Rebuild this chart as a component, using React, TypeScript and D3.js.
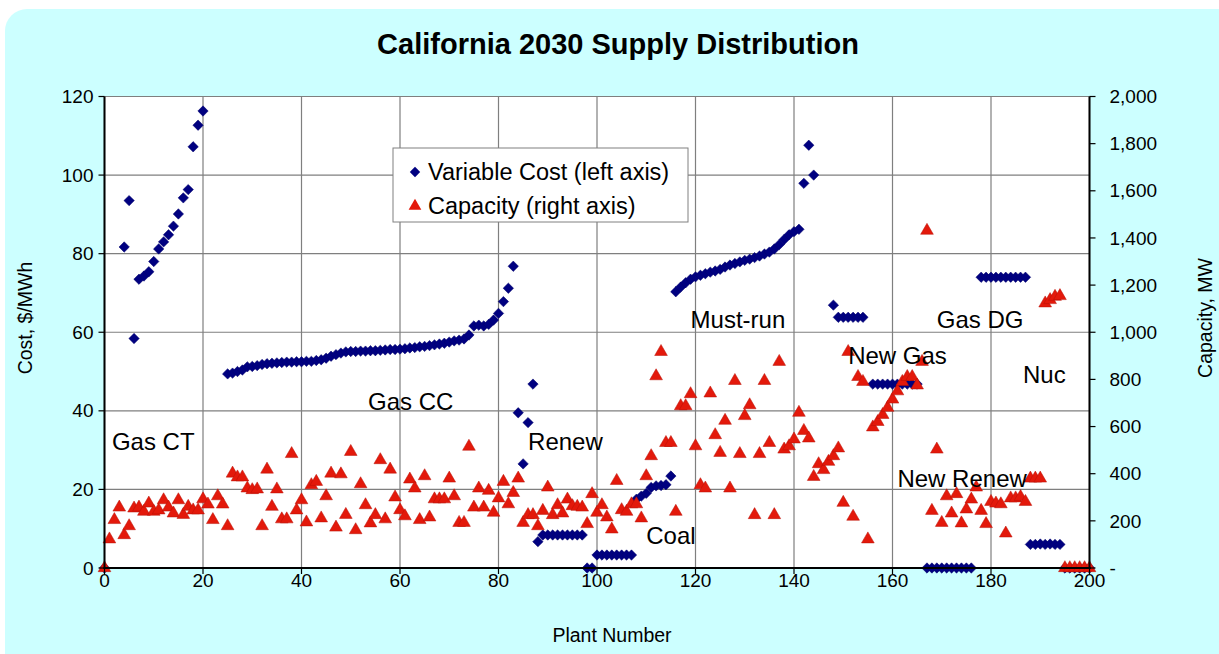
import React from "react";
import * as d3 from "d3";

// Variable cost ($/MWh) indexed by plant number 0..200 (null = no point)
const costValues: (number | null)[] = [
  0, null, null, null, 81.7, 93.5, 58.4, 73.5, 74.3, 75.4,
  78.0, 81.2, 83.0, 84.8, 87.0, 90.1, 94.2, 96.3, 107.2, 112.7,
  116.3, null, null, null, null, 49.4, 49.6, 50.0, 50.4, 51.2,
  51.3, 51.5, 51.8, 52.0, 52.1, 52.2, 52.3, 52.4, 52.4, 52.5,
  52.5, 52.6, 52.6, 52.8, 53.0, 53.4, 53.9, 54.3, 54.7, 55.0,
  55.1, 55.1, 55.2, 55.2, 55.3, 55.3, 55.4, 55.5, 55.6, 55.6,
  55.7, 55.8, 56.0, 56.1, 56.3, 56.4, 56.6, 56.8, 57.0, 57.2,
  57.5, 57.8, 58.0, 58.3, 59.3, 61.6, 61.8, 61.6, 62.0, 63.1,
  64.8, 67.8, 71.2, 76.8, 39.5, 26.5, 37.0, 46.8, 6.7, 8.4,
  8.4, 8.4, 8.4, 8.4, 8.4, 8.4, 8.4, 8.4, 0, 0,
  3.3, 3.3, 3.3, 3.3, 3.3, 3.3, 3.3, 3.3, 17.5, 18.3,
  19.0, 20.5, 20.9, 21.0, 21.2, 23.4, 70.3, 71.5, 72.6, 73.5,
  74.1, 74.5, 74.9, 75.3, 75.6, 76.0, 76.6, 77.1, 77.5, 77.9,
  78.3, 78.6, 79.0, 79.4, 79.9, 80.4, 81.2, 82.3, 83.6, 84.8,
  85.6, 86.2, 97.9, 107.6, 100.0, null, null, null, 66.9, 63.8,
  63.8, 63.8, 63.8, 63.8, 63.8, null, 46.8, 46.8, 46.8, 46.8,
  46.8, 46.8, 46.8, 46.8, 46.8, 46.8, null, 0, 0, 0,
  0, 0, 0, 0, 0, 0, 0, null, 74.0, 74.0,
  74.0, 74.0, 74.0, 74.0, 74.0, 74.0, 74.0, 74.0, 6.0, 6.0,
  6.1, 6.0, 6.1, 6.0, 6.0, 0, 0, 0, 0, 0,
  0,
];

// Capacity (MW) indexed by plant number 0..200
const capacityValues: number[] = [
  0, 122, 204, 257, 140, 178, 253, 257, 239, 274,
  239, 245, 288, 257, 232, 288, 226, 260, 245, 245,
  292, 270, 204, 305, 270, 178, 401, 385, 385, 338,
  331, 334, 178, 418, 260, 334, 207, 207, 484, 245,
  288, 194, 352, 366, 211, 305, 401, 172, 398, 226,
  493, 161, 356, 267, 190, 225, 458, 207, 418, 300,
  246, 220, 376, 338, 204, 390, 215, 292, 292, 292,
  380, 305, 192, 192, 515, 257, 338, 257, 328, 235,
  296, 366, 271, 319, 380, 192, 225, 225, 178, 243,
  342, 225, 267, 232, 291, 263, 260, 257, 187, 314,
  235, 267, 215, 164, 370, 246, 239, 271, 271, 211,
  390, 475, 814, 917, 531, 531, 239, 687, 687, 738,
  517, 352, 338, 741, 564, 489, 625, 338, 794, 484,
  645, 691, 225, 484, 794, 531, 225, 875, 503, 517,
  546, 659, 582, 550, 387, 441, 416, 451, 475, 508,
  277, 917, 218, 811, 790, 122, 597, 620, 650, 680,
  715, 750, 790, 811, 811, 775, 875, 1431, 243, 503,
  192, 305, 232, 314, 190, 249, 291, 342, 243, 187,
  281, 274, 271, 147, 296, 296, 302, 281, 380, 380,
  380, 1123, 1137, 1151, 1154, 0, 0, 0, 0, 0,
  0,
];

const xTicks = [0, 20, 40, 60, 80, 100, 120, 140, 160, 180, 200];
const leftTicks = [0, 20, 40, 60, 80, 100, 120];
const rightTicks = [0, 200, 400, 600, 800, 1000, 1200, 1400, 1600, 1800, 2000];

const regionLabels = [
  { text: "Gas CT", plant: 1.5, cost: 30 },
  { text: "Gas CC", plant: 53.5, cost: 40.2 },
  { text: "Renew", plant: 86, cost: 30 },
  { text: "Coal", plant: 110, cost: 6 },
  { text: "Must-run", plant: 119, cost: 61 },
  { text: "New Gas", plant: 151, cost: 52 },
  { text: "Gas DG", plant: 169, cost: 61 },
  { text: "Nuc", plant: 186.5, cost: 47 },
  { text: "New Renew", plant: 161, cost: 20.6 },
];

const W = 1219;
const H = 654;
const FONT = "'Liberation Sans', Arial, Helvetica, sans-serif";

export default function App() {
  const x = d3.scaleLinear().domain([0, 200]).range([104.5, 1089.5]);
  const yL = d3.scaleLinear().domain([0, 120]).range([568, 96.5]);
  const yR = d3.scaleLinear().domain([0, 2000]).range([568, 96.5]);

  const diamond = d3.symbol().type(d3.symbolSquare).size(54)()!;
  const triangle = d3.symbol().type(d3.symbolTriangle).size(70)()!;
  const fmt = d3.format(",");

  const blue = "#000080";
  const red = "#e3190b";

  return (
    <svg
      width={W}
      height={H}
      style={{ position: "fixed", left: 0, top: 0, display: "block" }}
      fontFamily={FONT}
    >
      <rect x={0} y={0} width={W} height={H} fill="#ffffff" />
      <rect x={5} y={9} width={W + 30} height={H + 30} rx={22} fill="#ccffff" />
      <text x={618} y={54} textAnchor="middle" fontSize={29} fontWeight="bold" fill="#000">
        California 2030 Supply Distribution
      </text>

      {/* plot area */}
      <rect x={x(0)} y={yL(120)} width={x(200) - x(0)} height={yL(0) - yL(120)} fill="#ffffff" />
      {/* gridlines */}
      {leftTicks.map((t) => (
        <line key={"gh" + t} x1={x(0)} x2={x(200)} y1={yL(t)} y2={yL(t)} stroke="#7f7f7f" strokeWidth={1.2} />
      ))}
      {xTicks.map((t) => (
        <line key={"gv" + t} x1={x(t)} x2={x(t)} y1={yL(0)} y2={yL(120)} stroke="#7f7f7f" strokeWidth={1.2} />
      ))}

      {/* series: variable cost */}
      {costValues.map((v, i) =>
        v === null ? null : (
          <path
            key={"c" + i}
            d={diamond}
            transform={`translate(${x(i)},${yL(v)}) rotate(45)`}
            fill={blue}
            stroke="#00006a"
            strokeWidth={0.5}
          />
        )
      )}
      {/* series: capacity */}
      {capacityValues.map((v, i) => (
        <path
          key={"p" + i}
          d={triangle}
          transform={`translate(${x(i)},${yR(v)})`}
          fill={red}
          stroke="#b81006"
          strokeWidth={0.5}
        />
      ))}

      {/* axes */}
      <line x1={x(0)} x2={x(0)} y1={yL(0) + 1} y2={yL(120)} stroke="#000" strokeWidth={2} />
      <line x1={x(200)} x2={x(200)} y1={yL(0) + 1} y2={yL(120)} stroke="#000" strokeWidth={2} />
      <line x1={x(0) - 1} x2={x(200) + 1} y1={yL(0)} y2={yL(0)} stroke="#000" strokeWidth={2} />

      {leftTicks.map((t) => (
        <g key={"lt" + t}>
          <line x1={x(0) - 6} x2={x(0)} y1={yL(t)} y2={yL(t)} stroke="#000" strokeWidth={1.2} />
          <text x={x(0) - 11} y={yL(t)} dy="0.35em" textAnchor="end" fontSize={19} fill="#000">
            {t}
          </text>
        </g>
      ))}
      {rightTicks.map((t) => (
        <g key={"rt" + t}>
          <line x1={x(200)} x2={x(200) + 6} y1={yR(t)} y2={yR(t)} stroke="#000" strokeWidth={1.2} />
          <text x={x(200) + 20} y={yR(t)} dy="0.35em" textAnchor="start" fontSize={19} fill="#000">
            {t === 0 ? "-" : fmt(t)}
          </text>
        </g>
      ))}
      {xTicks.map((t) => (
        <g key={"xt" + t}>
          <line x1={x(t)} x2={x(t)} y1={yL(0)} y2={yL(0) + 6} stroke="#000" strokeWidth={1.2} />
          <text x={x(t)} y={yL(0) + 12} dy="0.35em" textAnchor="middle" fontSize={19} fill="#000">
            {t}
          </text>
        </g>
      ))}

      {/* axis titles */}
      <text x={612} y={642} textAnchor="middle" fontSize={19.5} fill="#000">
        Plant Number
      </text>
      <text transform="translate(32,318) rotate(-90)" textAnchor="middle" fontSize={19.5} fill="#000">
        Cost, $/MWh
      </text>
      <text transform="translate(1212,318) rotate(-90)" textAnchor="middle" fontSize={19.5} fill="#000">
        Capacity, MW
      </text>

      {/* region labels */}
      {regionLabels.map((l) => (
        <text key={l.text} x={x(l.plant)} y={yL(l.cost)} fontSize={24} fill="#000">
          {l.text}
        </text>
      ))}

      {/* legend */}
      <rect x={393} y={148} width={295} height={74} fill="#ffffff" stroke="#808080" strokeWidth={1} />
      <path d={diamond} transform="translate(415,172) rotate(45)" fill={blue} />
      <text x={428} y={172} dy="0.35em" fontSize={23.5} fill="#000">
        Variable Cost (left axis)
      </text>
      <path d={triangle} transform="translate(415,206)" fill={red} />
      <text x={428} y={206} dy="0.35em" fontSize={23.5} fill="#000">
        Capacity (right axis)
      </text>
    </svg>
  );
}
